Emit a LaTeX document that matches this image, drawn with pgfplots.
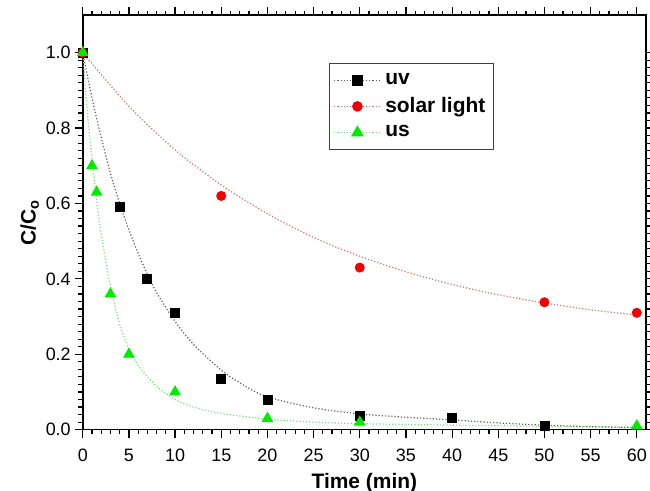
\documentclass[border=0pt]{standalone}
\usepackage{fontspec}
\setmainfont{Liberation Sans}
\usepackage{pgfplots}
\pgfplotsset{compat=1.18}
\definecolor{uvline}{RGB}{95,95,95}
\definecolor{solarline}{RGB}{215,110,110}
\definecolor{usline}{RGB}{120,220,120}
\definecolor{usgreen}{RGB}{0,235,0}
\definecolor{solarred}{RGB}{240,0,0}
\pgfplotsset{
  fitleg/.style={legend image code/.code={\draw[#1, densely dotted, line width=0.6pt] (0cm,0cm) -- (0.82cm,0cm); \draw[mark repeat=2,mark phase=2,##1] plot coordinates {(0cm,0cm) (0.41cm,0cm) (0.82cm,0cm)};}}
}
\begin{document}
\begin{tikzpicture}
\begin{axis}[
  width=282.5pt, height=208pt, scale only axis,
  xmin=0, xmax=61, ymin=0, ymax=1.1,
  xtick={0,5,10,15,20,25,30,35,40,45,50,55,60},
  ytick={0,0.2,0.4,0.6,0.8,1.0},
  minor x tick num=4, minor y tick num=9,
  xtick pos=both, ytick pos=both,
  tick align=outside,
  major tick length=4pt, minor tick length=2.2pt,
  axis line style={line width=0.8pt},
  every tick/.style={black, line width=0.6pt},
  /pgf/number format/assume math mode=true,
  yticklabel style={/pgf/number format/fixed, /pgf/number format/fixed zerofill, /pgf/number format/precision=1, xshift=1.5pt},
  xticklabel style={yshift=-2pt},
  ticklabel style={font=\fontsize{9}{11}\selectfont},
  xlabel={Time (min)}, ylabel={C/C\textsubscript{o}},
  label style={font=\fontsize{10.5}{12}\selectfont\bfseries},
  xlabel style={yshift=1pt},
  ylabel style={yshift=-3.5pt},
  legend style={at={(rel axis cs:0.437,0.885)}, anchor=north west,
    draw=black!75, line width=0.7pt, font=\fontsize{10.5}{12}\selectfont\bfseries,
    inner xsep=2pt, inner ysep=3pt, row sep=1pt},
  legend cell align=left,
]
% fitted curves (dotted)
\addplot[uvline, densely dotted, line width=0.6pt, smooth, forget plot] coordinates {
 (0,1.0) (1,0.88) (2,0.775) (3,0.68) (4,0.60) (5,0.53) (6,0.468) (7,0.412) (8,0.364) (10,0.287) (12,0.226) (15,0.158) (17.5,0.117) (20,0.087) (25,0.058) (30,0.042) (35,0.033) (40,0.026) (45,0.018) (50,0.012) (55,0.008) (60,0.005)};
\addplot[solarline, densely dotted, line width=0.6pt, smooth, forget plot] coordinates {
 (0,1.0) (5,0.858) (10,0.742) (15,0.649) (20,0.573) (25,0.510) (30,0.460) (35,0.419) (40,0.385) (45,0.358) (50,0.336) (55,0.318) (60,0.304)};
\addplot[usline, densely dotted, line width=0.6pt, smooth, forget plot] coordinates {
 (0,1.0) (0.5,0.84) (1,0.72) (1.5,0.61) (2,0.52) (3,0.38) (4,0.28) (5,0.215) (6,0.17) (8,0.115) (10,0.08) (12,0.06) (15,0.043) (20,0.028) (25,0.02) (30,0.016) (40,0.012) (50,0.009) (60,0.007)};
% data
\addplot[only marks, mark=square*, mark size=2.25pt, black, mark options={fill=black}, fitleg=uvline]
 coordinates {(0,1.0) (4,0.59) (7,0.40) (10,0.31) (15,0.135) (20,0.08) (30,0.037) (40,0.03) (50,0.01)};
\addlegendentry{uv}
\addplot[only marks, mark=*, mark size=2.3pt, solarred, mark options={fill=solarred, draw=solarred}, fitleg=solarline]
 coordinates {(0,1.0) (15,0.62) (30,0.43) (50,0.338) (60,0.31)};
\addlegendentry{solar light}
\addplot[only marks, mark=triangle*, mark size=3pt, usgreen, mark options={fill=usgreen, draw=usgreen}, fitleg=usline]
 coordinates {(0,1.0) (1,0.70) (1.5,0.63) (3,0.36) (5,0.20) (10,0.10) (20,0.03) (30,0.02) (60,0.01)};
\addlegendentry{us}
\path (rel axis cs:0,0) ++(-41.5pt,-30.5pt) coordinate (bbl);
\path (rel axis cs:1,1) ++(2pt,7.5pt) coordinate (btr);
\end{axis}
\pgfresetboundingbox
\path[use as bounding box] (bbl) rectangle (btr);
\end{tikzpicture}
\end{document}
